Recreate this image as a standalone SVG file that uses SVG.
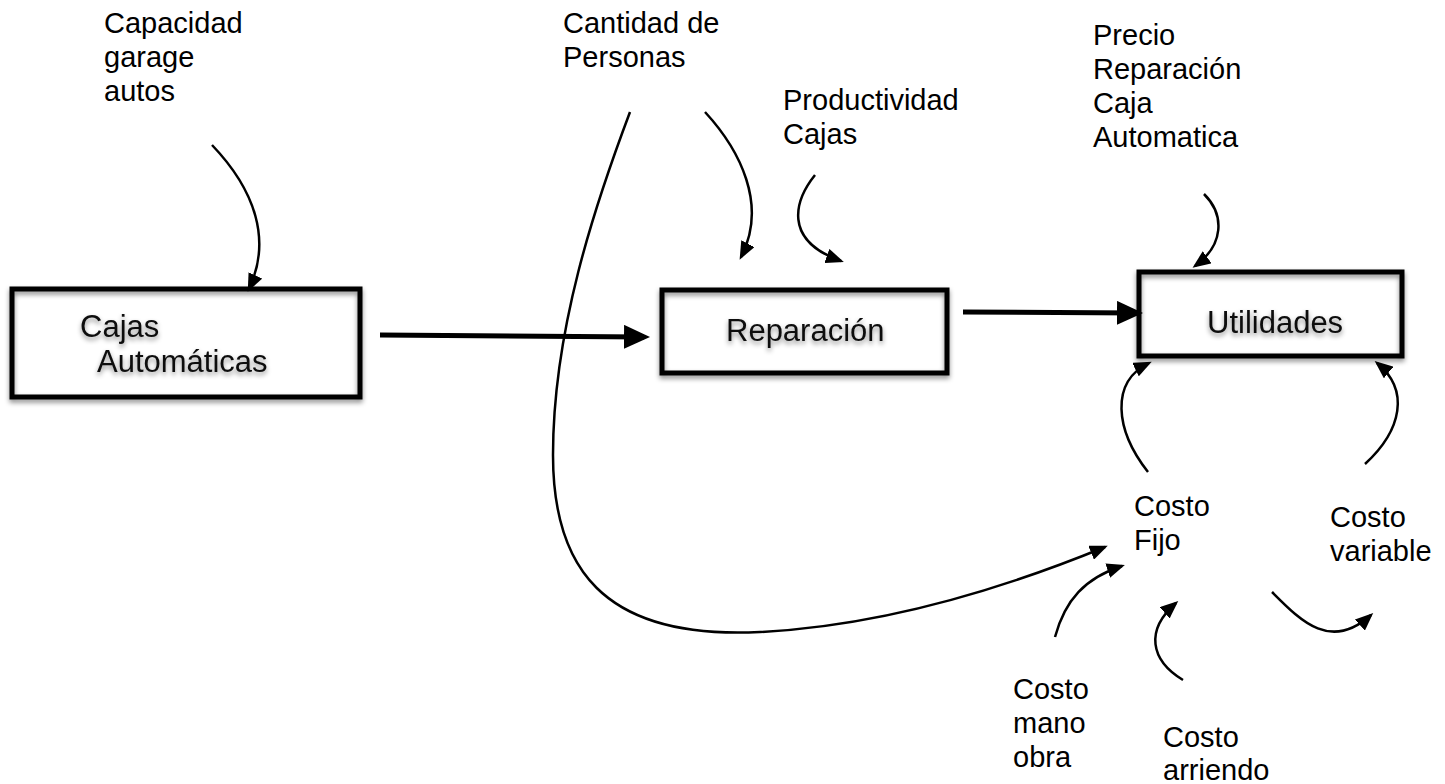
<svg xmlns="http://www.w3.org/2000/svg" width="1445" height="784" viewBox="0 0 1445 784">
  <defs>
    <style>
      .lbl { font-family: "Liberation Sans", Arial, Helvetica, sans-serif; font-size: 29px; fill: #000; }
      .box { fill: none; stroke: #000; stroke-width: 5; }
      .boxtxt { font-family: "Liberation Sans", Arial, Helvetica, sans-serif; font-size: 31px; fill: #111; }
      .thin { fill: none; stroke: #000; stroke-width: 2.5; }
      .thick { fill: none; stroke: #000; stroke-width: 5; }
    </style>
    <filter id="sh" x="-10%" y="-20%" width="120%" height="150%">
      <feDropShadow dx="0" dy="3" stdDeviation="2.5" flood-color="#000" flood-opacity="0.45"/>
    </filter>
    <marker id="ah" viewBox="0 0 18 15" refX="15" refY="7.5" markerWidth="18" markerHeight="15" markerUnits="userSpaceOnUse" orient="auto">
      <path d="M0,0 L18,7.5 L0,15 Z" fill="#000"/>
    </marker>
    <marker id="ahb" viewBox="0 0 26 24" refX="20" refY="12" markerWidth="26" markerHeight="24" markerUnits="userSpaceOnUse" orient="auto">
      <path d="M0,0 L26,12 L0,24 Z" fill="#000"/>
    </marker>
  </defs>
  <rect width="1445" height="784" fill="#fff"/>

  <g id="node-cajas">
    <rect class="box" x="12" y="289" width="348" height="108" filter="url(#sh)"/>
    <text class="boxtxt" filter="url(#sh)"><tspan x="80" y="337">Cajas</tspan><tspan x="97" y="372">Automáticas</tspan></text>
  </g>
  <g id="node-reparacion">
    <rect class="box" x="662" y="290" width="285" height="83" filter="url(#sh)"/>
    <text class="boxtxt" x="726" y="341" filter="url(#sh)">Reparación</text>
  </g>
  <g id="node-utilidades">
    <rect class="box" x="1139" y="272" width="263" height="84" filter="url(#sh)"/>
    <text class="boxtxt" x="1207" y="333" filter="url(#sh)">Utilidades</text>
  </g>

  <g id="node-capacidad">
    <text class="lbl"><tspan x="104" y="33">Capacidad</tspan><tspan x="104" y="67">garage</tspan><tspan x="104" y="101">autos</tspan></text>
  </g>
  <g id="node-cantidad">
    <text class="lbl"><tspan x="563" y="33">Cantidad de</tspan><tspan x="563" y="67">Personas</tspan></text>
  </g>
  <g id="node-productividad">
    <text class="lbl"><tspan x="783" y="110">Productividad</tspan><tspan x="783" y="144">Cajas</tspan></text>
  </g>
  <g id="node-precio">
    <text class="lbl"><tspan x="1093" y="45">Precio</tspan><tspan x="1093" y="79">Reparación</tspan><tspan x="1093" y="113">Caja</tspan><tspan x="1093" y="147">Automatica</tspan></text>
  </g>
  <g id="node-costofijo">
    <text class="lbl"><tspan x="1134" y="516">Costo</tspan><tspan x="1134" y="550">Fijo</tspan></text>
  </g>
  <g id="node-costovariable">
    <text class="lbl"><tspan x="1330" y="527">Costo</tspan><tspan x="1330" y="561">variable</tspan></text>
  </g>
  <g id="node-manoobra">
    <text class="lbl"><tspan x="1013" y="699">Costo</tspan><tspan x="1013" y="733">mano</tspan><tspan x="1013" y="767">obra</tspan></text>
  </g>
  <g id="node-arriendo">
    <text class="lbl"><tspan x="1163" y="747">Costo</tspan><tspan x="1163" y="780">arriendo</tspan></text>
  </g>

  <g id="connectors">
    <path class="thick" d="M380,335 L644,337" marker-end="url(#ahb)"/>
    <path class="thick" d="M963,312 L1137,313" marker-end="url(#ahb)"/>
    <path class="thin" d="M212,145 C255,190 272,240 249,289" marker-end="url(#ah)"/>
    <path class="thin" d="M630,112 C595,205 553,330 553,455 C553,565 600,640 760,632 C880,626 1000,590 1105,547" marker-end="url(#ah)"/>
    <path class="thin" d="M705,112 C740,150 768,205 741,257" marker-end="url(#ah)"/>
    <path class="thin" d="M815,175 C795,200 782,240 841,261" marker-end="url(#ah)"/>
    <path class="thin" d="M1204,194 C1225,215 1224,245 1195,266" marker-end="url(#ah)"/>
    <path class="thin" d="M1148,472 C1115,430 1110,382 1149,363" marker-end="url(#ah)"/>
    <path class="thin" d="M1365,464 C1402,430 1410,390 1377,363" marker-end="url(#ah)"/>
    <path class="thin" d="M1055,637 C1065,600 1085,578 1122,566" marker-end="url(#ah)"/>
    <path class="thin" d="M1183,680 C1150,660 1145,630 1176,603" marker-end="url(#ah)"/>
    <path class="thin" d="M1272,592 C1300,620 1330,652 1371,615" marker-end="url(#ah)"/>
  </g>
</svg>
